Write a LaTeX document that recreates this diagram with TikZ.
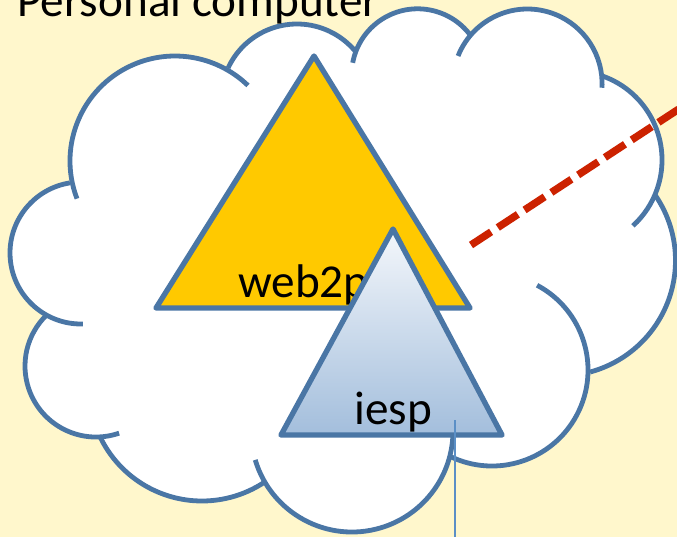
\documentclass[tikz,border=0pt]{standalone}
\usepackage{fontspec}
\setmainfont{Carlito}
\definecolor{paper}{HTML}{FFF7CC}
\definecolor{edge}{HTML}{4A76A5}
\definecolor{gold}{HTML}{FFC900}
\definecolor{redline}{HTML}{CC2200}
\definecolor{leaderblue}{HTML}{5B8FC6}
\definecolor{shadetop}{HTML}{F4F7FB}
\definecolor{shadebot}{HTML}{A3BEDC}
\tikzset{
  lobe/.style={draw=edge,line width=3.6pt,line cap=butt},
  blob/.style={fill=white},
  tri/.style={draw=edge,line width=4pt,line join=round},
  label/.style={inner sep=0pt,anchor=base west,font=\fontsize{35.4}{42}\selectfont,text=black},
  link/.style={draw=redline,line width=5.6pt,dash pattern=on 18pt off 6pt},
  leader/.style={draw=leaderblue,line width=1.2pt}
}
\newcommand{\lobearc}[5]{\draw[lobe] (#1,#2) ++(#4:#3) arc[start angle=#4,end angle=#5,radius=#3];}
\newcommand{\lobefill}[3]{\fill[blob] (#1,#2) circle[radius=#3];}
\begin{document}
\begin{tikzpicture}[x=.75pt,y=.75pt,yscale=-1]
\useasboundingbox (0,0) rectangle (677,537);
\clip (0,0) rectangle (677,537);
\fill[paper] (0,0) rectangle (677,537);
% cloud body
\lobefill{175}{161}{105}
\lobefill{297}{100}{76}
\lobefill{417.6}{74.8}{66}
\lobefill{527.4}{83.7}{74.7}
\lobefill{573}{160}{89}
\lobefill{560}{260.5}{115.5}
\lobefill{492}{370}{96}
\lobefill{352}{431}{101}
\lobefill{202}{388}{113}
\lobefill{96}{366}{71}
\lobefill{81}{253}{71}
\fill[blob] (175,161) -- (297,100) -- (417,75) -- (527,84) -- (573,160) -- (560,260) -- (492,370) -- (352,431) -- (202,388) -- (96,366) -- (81,253) -- cycle;
% red link
\coordinate (linkA) at (471,245);
\coordinate (linkB) at (685,105);
\draw[link] (linkA) -- (linkB);
% cloud outline
\lobearc{175}{161}{105}{159}{314}
\lobearc{297}{100}{76}{205}{321}
\lobearc{417.6}{74.8}{66}{190.5}{322.6}
\lobearc{527.4}{83.7}{74.7}{201.8}{363.1}
\lobearc{573}{160}{89}{289}{407.7}
\lobearc{560}{260.5}{115.5}{325.4}{434.9}
\lobearc{492}{370}{96}{298}{476}
\lobearc{352}{431}{101}{163.4}{3.4}
\lobearc{202}{388}{113}{154.3}{56.2}
\lobearc{96}{366}{71}{71}{225.6}
\lobearc{81}{253}{71}{88.4}{261}
% web2py
\coordinate (wa) at (314,56);
\coordinate (wb) at (156,308);
\coordinate (wc) at (470,308);
\draw[tri,fill=gold] (wa) -- (wb) -- (wc) -- cycle;
\node[label] (web) at (238,297) {web2py};
% iesp
\coordinate (ia) at (393,229);
\coordinate (ib) at (281,435);
\coordinate (ic) at (502,435);
\path[shade,top color=shadetop,bottom color=shadebot] (ia) -- (ib) -- (ic) -- cycle;
\draw[tri] (ia) -- (ib) -- (ic) -- cycle;
\node[label] (iesp) at (354,424) {iesp};
% leader
\coordinate (leadA) at (455,420);
\coordinate (leadB) at (455,537);
\draw[leader] (leadA) -- (leadB);
% title
\node[label] (title) at (17,16) {Personal computer};
\end{tikzpicture}
\end{document}
